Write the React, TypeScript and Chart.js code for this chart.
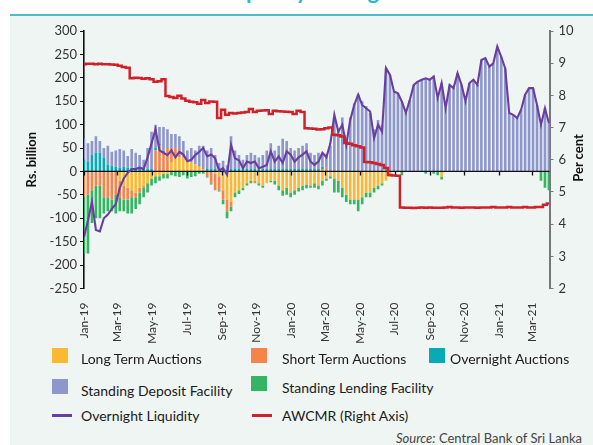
import React, { useEffect, useRef } from 'react';
import { Chart, registerables } from 'chart.js';

Chart.register(...registerables);

// ---- tick labels (x axis every two months) ----
const tickLabels = ['Jan-19', 'Mar-19', 'May-19', 'Jul-19', 'Sep-19', 'Nov-19', 'Jan-20', 'Mar-20', 'May-20', 'Jul-20', 'Sep-20', 'Nov-20', 'Jan-21', 'Mar-21'];
// day offsets from 1 Jan 2019 of each labelled month start
const tickDays = [0, 59, 120, 181, 243, 304, 365, 425, 486, 547, 609, 670, 731, 790];

// ---- weekly observations (Rs. billion) ----
const longTermAuctions = [
  0, 0, 0, 0, 0, 0, 0, 0, 0, -20,
  -30, -35, -40, -45, -35, -30, -25, -15, -10, -10,
  -5, -5, 20, 30, 30, 30, 25, 20, 15, 10,
  5, 0, 0, -5, -10, -40, -60, -65, -45, -40,
  -35, -25, -20, -20, -25, -30, -25, -20, -20, -30,
  -40, -35, -45, -40, -35, -30, -28, -30, -25, -30,
  -20, -15, -10, -15, -20, -35, -50, -60, -60, -60,
  -55, -45, -45, -35, -30, -25, -20, -12, 0, 0,
  0, 0, 0, 0, 0, 0, 0, 0, 0, 0,
  -12, 0, 0, 0, 0, 0, 0, 0, 0, 0,
  0, 0, 0, 0, 0, 0, 0, 0, 0, 0,
  0, 0, 0, 0, 0, 0, 0, 0,
];

const shortTermAuctions = [
  -55, -50, -40, -30, -30, -55, -55, -60, -50, -35,
  -30, -25, -15, -10, -10, -5, 0, 0, 45, 55,
  40, 50, 30, 20, 15, 0, 0, 0, 0, 0,
  0, -10, -25, -35, -30, -20, -25, -10, 0, 0,
  0, 0, 0, -5, 0, 0, 0, 0, 0, 0,
  0, 0, 0, 0, 0, 0, 0, 0, 0, 0,
  5, 8, 0, 0, 0, 0, 0, 0, 0, 0,
  0, 0, 0, 0, 0, 0, 0, 0, 0, 0,
  0, 0, 0, 0, 0, 0, 0, 0, 0, 0,
  0, 0, 0, 0, 0, 0, 0, 0, 0, 0,
  0, 0, 0, 0, 0, 0, 0, 0, 0, 0,
  0, 0, 0, 0, 0, 0, 0, 0,
];

const overnightAuctions = [
  25, 20, 35, 40, 40, 30, 15, 12, 10, 8,
  10, 8, 8, 5, 5, 5, 5, 5, 5, 5,
  5, 0, 0, 0, 0, 0, 0, 0, 0, 0,
  0, 5, 5, 5, 3, 3, 3, 5, 5, 5,
  5, 5, 5, 5, 5, 5, 5, 5, 5, 5,
  5, 5, 5, 5, 5, 5, 5, 5, 5, 5,
  5, 0, 0, 0, 0, 0, 0, 0, 0, 0,
  0, 0, 0, 0, 0, 0, 0, 0, 0, 0,
  0, 0, 0, 0, 0, 0, 0, 0, 0, 0,
  0, 0, 0, 0, 0, 0, 0, 0, 0, 0,
  0, 0, 0, 0, 0, 0, 0, 0, 0, 0,
  0, 0, 0, 0, 0, 0, 0, 0,
];

const standingDeposit = [
  45, 40, 30, 35, 25, 20, 40, 30, 35, 40,
  35, 25, 40, 35, 30, 20, 45, 80, 50, 35,
  50, 40, 30, 30, 30, 35, 20, 30, 30, 45,
  50, 40, 45, 30, 15, 20, 10, 70, 40, 30,
  20, 30, 35, 30, 25, 30, 40, 55, 40, 50,
  65, 60, 45, 40, 45, 50, 55, 35, 30, 35,
  30, 30, 55, 115, 90, 115, 70, 115, 145, 165,
  150, 140, 125, 90, 110, 100, 221, 206, 171, 167,
  149, 125, 153, 185, 192, 196, 199, 196, 203, 157,
  189, 135, 185, 178, 210, 185, 150, 189, 196, 185,
  238, 242, 224, 231, 267, 245, 220, 125, 121, 114,
  132, 164, 178, 178, 142, 100, 135, 103,
];

const standingLending = [
  -120, -125, -70, -70, -70, -35, -30, -25, -40, -30,
  -25, -30, -35, -25, -25, -20, -20, -15, -15, -10,
  -10, -10, -8, -10, -12, -8, -15, -12, -10, -5,
  -5, -3, -3, 0, -3, -10, -15, -10, -10, -8,
  -5, -5, -5, 0, -5, -5, 0, -3, -8, -10,
  -12, -15, -10, -10, -8, -10, -8, -5, -10, -8,
  -10, -5, -5, -30, -25, -20, -15, -10, -10, -25,
  -15, -10, -10, -10, -8, -5, 0, 0, 0, 0,
  -8, 0, 0, 0, 0, 0, -5, 0, -5, -8,
  -5, 0, 0, 0, 0, 0, 0, 0, 0, 0,
  0, 0, 0, 0, 0, 0, 0, 0, 0, 0,
  0, 0, 0, 0, 0, -20, -35, -40,
];

const overnightLiquidity = [
  -140, -105, -65, -125, -128, -100, -92, -80, -70, -35,
  -15, -3, 5, 5, 8, 5, 30, 60, 90, 45,
  40, 35, 45, 30, 42, 36, 22, 25, 35, 42,
  50, 32, 36, 28, 2, 7, -7, 57, 28, 24,
  7, 21, 18, 21, 7, 10, 14, 43, 21, 32,
  18, 43, 36, 21, 30, 36, 43, 21, 14, 21,
  40, 30, 60, 121, 85, 100, 57, 110, 142, 164,
  142, 135, 128, 71, 100, 85, 221, 206, 171, 167,
  149, 125, 153, 185, 192, 196, 199, 196, 203, 157,
  189, 135, 185, 178, 210, 185, 150, 189, 196, 185,
  238, 242, 224, 231, 267, 245, 220, 125, 121, 114,
  132, 164, 178, 178, 142, 100, 135, 103,
];

// ---- AWCMR (per cent, right axis) ----
const awcmr = [
  8.97, 8.98, 8.98, 8.97, 8.98, 8.97, 8.97, 8.96, 8.95, 8.92,
  8.88, 8.86, 8.53, 8.55, 8.54, 8.52, 8.53, 8.50, 8.42, 8.44,
  8.50, 7.98, 7.95, 7.92, 7.99, 7.90, 7.83, 7.80, 7.79, 7.74,
  7.86, 7.76, 7.81, 7.80, 7.30, 7.55, 7.40, 7.45, 7.44, 7.45,
  7.47, 7.48, 7.58, 7.48, 7.52, 7.53, 7.54, 7.42, 7.52, 7.51,
  7.50, 7.49, 7.48, 7.42, 7.52, 7.48, 6.98, 6.97, 6.96, 6.94,
  6.95, 6.98, 7.00, 6.78, 6.76, 6.72, 6.52, 6.50, 6.45, 6.42,
  6.38, 5.93, 5.92, 5.90, 5.87, 5.84, 5.74, 5.53, 5.51, 5.50,
  4.52, 4.51, 4.51, 4.50, 4.51, 4.52, 4.51, 4.52, 4.51, 4.51,
  4.51, 4.52, 4.53, 4.52, 4.52, 4.51, 4.52, 4.52, 4.52, 4.51,
  4.52, 4.52, 4.52, 4.53, 4.52, 4.52, 4.52, 4.53, 4.52, 4.52,
  4.52, 4.53, 4.52, 4.52, 4.53, 4.53, 4.60, 4.64,
];

const DAYS_PER_OBS = 7;
const obsDay = awcmr.map((_, i) => i * DAYS_PER_OBS);

const FONT = 'Lato, "Noto Sans", sans-serif';

export default function App() {
  const ref = useRef<HTMLCanvasElement>(null);

  useEffect(() => {
    if (!ref.current) return;
    const xy = (arr: number[]) => arr.map((v, i) => ({ x: obsDay[i], y: v }));

    const zeroAxis = {
      id: 'zeroAxis',
      afterDatasetDraw(chart: any, args: any) {
        if (args.index !== 0) return;
        const { ctx, chartArea, scales } = chart;
        const y0 = scales.y.getPixelForValue(0);
        ctx.save();
        ctx.strokeStyle = '#111';
        ctx.lineWidth = 1.3;
        ctx.beginPath();
        ctx.moveTo(chartArea.left, y0);
        ctx.lineTo(chartArea.right, y0);
        tickDays.forEach((d) => {
          const x = Math.round(scales.x.getPixelForValue(d)) + 0.5;
          ctx.moveTo(x, y0);
          ctx.lineTo(x, y0 + 4);
        });
        ctx.stroke();
        ctx.restore();
      },
    };

    const barCommon = {
      type: 'bar' as const,
      yAxisID: 'y',
      order: 2,
      barPercentage: 1,
      categoryPercentage: 0.66,
      borderWidth: 0,
    };

    const chart = new Chart(ref.current, {
      type: 'bar',
      data: {
        datasets: [
          { ...barCommon, label: 'Long Term Auctions', data: xy(longTermAuctions), backgroundColor: '#fbb832' },
          { ...barCommon, label: 'Short Term Auctions', data: xy(shortTermAuctions), backgroundColor: '#f5834a' },
          { ...barCommon, label: 'Overnight Auctions', data: xy(overnightAuctions), backgroundColor: '#0aa9b8' },
          { ...barCommon, label: 'Standing Deposit Facility', data: xy(standingDeposit), backgroundColor: '#8e96cb' },
          { ...barCommon, label: 'Standing Lending Facility', data: xy(standingLending), backgroundColor: '#33b561' },
          {
            type: 'line', label: 'Overnight Liquidity', data: xy(overnightLiquidity), yAxisID: 'y', stack: 'ol', order: 1,
            borderColor: '#6a3ea1', borderWidth: 2.1, pointRadius: 0, tension: 0, fill: false,
          } as any,
          {
            type: 'line', label: 'AWCMR (Right Axis)', data: xy(awcmr), yAxisID: 'y1', order: 0,
            borderColor: '#d0212b', borderWidth: 2.5, pointRadius: 0, stepped: 'middle', fill: false,
          } as any,
        ],
      },
      options: {
        animation: false,
        responsive: false,
        devicePixelRatio: 1,
        layout: { padding: { top: 15, left: 0, right: 0, bottom: 0 } },
        plugins: { legend: { display: false }, tooltip: { enabled: false }, title: { display: false } },
        scales: {
          x: {
            type: 'linear',
            min: 0,
            max: 820,
            stacked: true,
            offset: false,
            grid: { display: false },
            border: { display: false },
            afterBuildTicks: (scale: any) => { scale.ticks = tickDays.map((v) => ({ value: v })); },
            afterFit: (scale: any) => { scale.height = 63.5; },
            ticks: {
              autoSkip: false,
              maxRotation: 90,
              minRotation: 90,
              padding: 6,
              color: '#333',
              font: { family: FONT, size: 12 },
              callback: (v: any) => tickLabels[tickDays.indexOf(Number(v))] ?? '',
            },
          },
          y: {
            type: 'linear',
            position: 'left',
            stacked: true,
            min: -250,
            max: 300,
            afterFit: (scale: any) => { scale.width = 74; },
            ticks: { stepSize: 50, color: '#333', padding: 3, font: { family: FONT, size: 13 } },
            grid: { drawOnChartArea: false, color: '#111', tickLength: 4 },
            border: { color: '#111', width: 1.6 },
            title: {
              display: true,
              text: 'Rs. billion',
              color: '#111',
              font: { family: FONT, size: 13, weight: 'bold' },
              padding: { top: 14, bottom: 0 },
            },
          },
          y1: {
            type: 'linear',
            position: 'right',
            min: 2,
            max: 10,
            afterFit: (scale: any) => { scale.width = 43.5; },
            ticks: { stepSize: 1, color: '#333', padding: 5, font: { family: FONT, size: 13 } },
            grid: { drawOnChartArea: false, color: '#777', tickLength: 4 },
            border: { color: '#777', width: 2 },
          },
        },
      } as any,
      plugins: [zeroAxis],
    });
    return () => chart.destroy();
  }, []);

  const sq = (left: number, top: number, color: string) => (
    <div style={{ position: 'absolute', left, top, width: 16, height: 15, background: color }} />
  );
  const ln = (left: number, top: number, color: string) => (
    <div style={{ position: 'absolute', left, top, width: 20, height: 3, background: color }} />
  );
  const txt = (left: number, centerY: number, text: string) => (
    <div style={{ position: 'absolute', left, top: centerY - 8, height: 16, lineHeight: '16px', fontSize: 14, color: '#1b1b1b', whiteSpace: 'nowrap' }}>{text}</div>
  );

  return (
    <div style={{ position: 'fixed', left: 0, top: 0, width: 593, height: 445, background: '#fff', fontFamily: FONT, overflow: 'hidden' }}>
      <div style={{ position: 'absolute', left: 0, top: 0, width: 593, height: 14, overflow: 'hidden' }}>
        <div style={{ position: 'absolute', left: 222, top: -20, fontSize: 22, lineHeight: '22px', fontWeight: 'bold', color: '#31b4c6', whiteSpace: 'nowrap' }}>
          Liquidity Management
        </div>
      </div>
      <div style={{ position: 'absolute', left: 10, top: 14, width: 583, height: 2, background: '#4bbcc9' }} />
      <div style={{ position: 'absolute', left: 10, top: 16, width: 583, height: 429, background: '#eff5f3' }} />
      <canvas ref={ref} width={583} height={336} style={{ position: 'absolute', left: 10, top: 16, width: 583, height: 336 }} />
      <div style={{ position: 'absolute', left: 578, top: 158, width: 0, height: 0 }}>
        <div style={{ position: 'absolute', left: -40, top: -8, width: 80, height: 16, lineHeight: '16px', textAlign: 'center', transform: 'rotate(-90deg)', fontSize: 13, fontWeight: 'bold', color: '#111', whiteSpace: 'nowrap' }}>
          Per cent
        </div>
      </div>
      {sq(52, 348, '#fbb832')}{txt(81, 359, 'Long Term Auctions')}
      {sq(251, 348, '#f5834a')}{txt(282, 359, 'Short Term Auctions')}
      {sq(429, 348, '#0aa9b8')}{txt(450, 359, 'Overnight Auctions')}
      {sq(52, 379, '#8e96cb')}{txt(81, 391, 'Standing Deposit Facility')}
      {sq(251, 376, '#33b561')}{txt(282, 388, 'Standing Lending Facility')}
      {ln(52, 414, '#6a3ea1')}{txt(81, 416, 'Overnight Liquidity')}
      {ln(252, 414, '#d0212b')}{txt(282, 416, 'AWCMR (Right Axis)')}
      <div style={{ position: 'absolute', right: 11, top: 431, height: 14, lineHeight: '14px', fontSize: 13, color: '#444', whiteSpace: 'nowrap' }}>
        <i>Source:</i> Central Bank of Sri Lanka
      </div>
    </div>
  );
}
